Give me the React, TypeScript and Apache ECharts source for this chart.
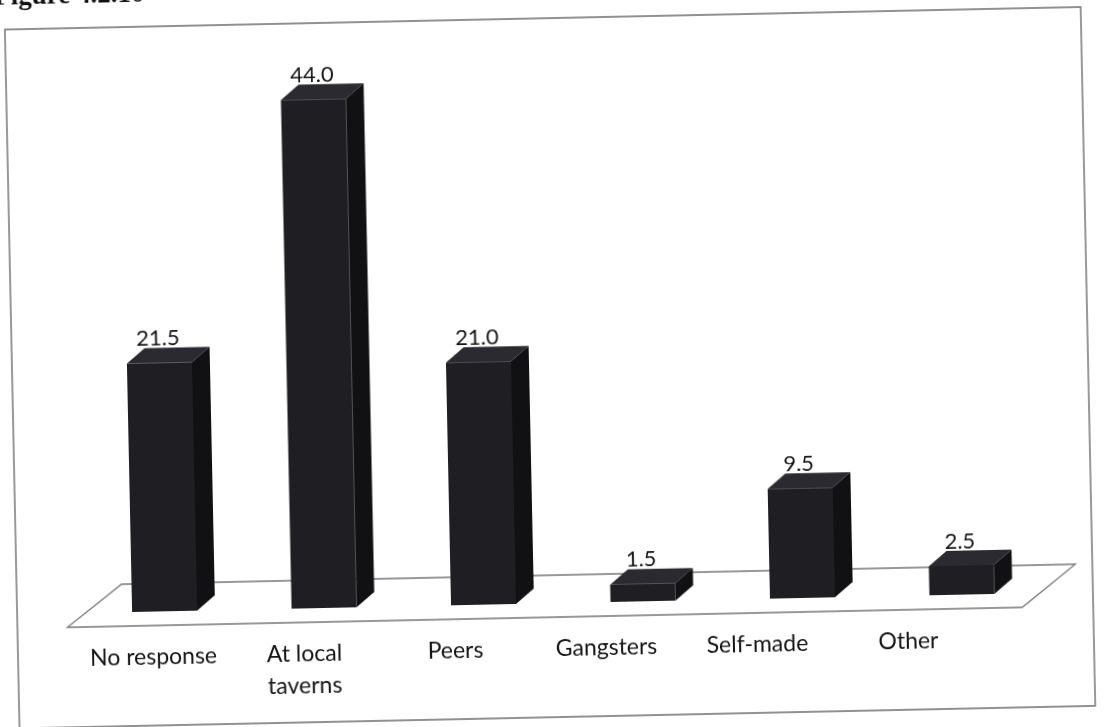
import React, { useEffect, useRef } from "react";
import * as echarts from "echarts";

// ---- data ----
const categories = ["No response", "At local taverns", "Peers", "Gangsters", "Self-made", "Other"];
const categoryLabels = ["No response", "At local\ntaverns", "Peers", "Gangsters", "Self-made", "Other"];
const values = [21.5, 44.0, 21.0, 1.5, 9.5, 2.5];
const titleText = "Figure 4.2.10";

// ---- layout (unrotated page coords, offset by OFF because the canvas is larger than the page) ----
const W = 1199;
const H = 807;
const OFF = 40;
const BASE_Y = 603 + OFF;
const PX_PER_UNIT = 11.56;
const Y_MAX = 50;
const GRID_TOP = BASE_Y - Y_MAX * PX_PER_UNIT;
const GRID_LEFT = 79.75 + OFF;
const GRID_WIDTH = 957;
const LABEL_LEFT = 72 + OFF;
const LABEL_WIDTH = 906;
const LABEL_AXIS_Y = 621 + OFF;
const FRONT_RATIO = 65 / 159.5;
const DEPTH_X = 18;
const DEPTH_Y = -15;
const FRONT = "#1e1e23";
const SIDE = "#111114";
const TOPC = "#2a2a30";
const FONT = "Lato, 'Open Sans', sans-serif";

export default function App() {
  const ref = useRef<HTMLDivElement>(null);
  useEffect(() => {
    if (!ref.current) return;
    const chart = echarts.init(ref.current, undefined, { renderer: "svg" });
    const option: any = {
      animation: false,
      backgroundColor: "transparent",
      grid: [
        { left: GRID_LEFT, width: GRID_WIDTH, top: GRID_TOP, bottom: H - BASE_Y },
        { left: LABEL_LEFT, width: LABEL_WIDTH, top: 600, bottom: H - LABEL_AXIS_Y },
      ],
      xAxis: [
        {
          type: "category",
          gridIndex: 0,
          data: categories,
          show: false,
        },
        {
          type: "category",
          gridIndex: 1,
          data: categoryLabels,
          axisLine: { show: false },
          axisTick: { show: false },
          axisLabel: {
            margin: 10,
            fontSize: 23,
            lineHeight: 32,
            color: "#141414",
            fontFamily: FONT,
            interval: 0,
            verticalAlign: "top",
          },
        },
      ],
      yAxis: [
        { type: "value", gridIndex: 0, min: 0, max: Y_MAX, show: false },
        { type: "value", gridIndex: 1, show: false },
      ],
      graphic: [
        {
          type: "rect",
          z: -10,
          shape: { x: 12 + OFF, y: 18 + OFF, width: 1076, height: 699 },
          style: { fill: "#ffffff", stroke: "#6e6e6e", lineWidth: 1.4 },
        },
        {
          type: "polygon",
          z: -5,
          shape: {
            points: [
              [117 + OFF, 575 + OFF],
              [1071 + OFF, 575 + OFF],
              [1017 + OFF, 617 + OFF],
              [62 + OFF, 617 + OFF],
            ],
          },
          style: { fill: "#ffffff", stroke: "#777777", lineWidth: 1.3 },
        },
        {
          type: "text",
          x: 2 + OFF,
          y: OFF - 3,
          style: {
            text: titleText,
            fontFamily: "'Liberation Serif', serif",
            fontWeight: "bold",
            fontSize: 27,
            fill: "#111",
            verticalAlign: "bottom",
            align: "left",
          },
        },
      ],
      series: [
        {
          type: "custom",
          xAxisIndex: 0,
          yAxisIndex: 0,
          z: 5,
          data: values.map((v, i) => [i, v]),
          encode: { x: 0, y: 1 },
          renderItem: (params: any, api: any) => {
            const idx = api.value(0);
            const val = api.value(1);
            const top = api.coord([idx, val]);
            const base = api.coord([idx, 0]);
            const band = api.size([1, 0])[0];
            const fw = band * FRONT_RATIO;
            const x0 = top[0] - fw / 2;
            const x1 = top[0] + fw / 2;
            const yT = top[1];
            const yB = base[1];
            return {
              type: "group",
              children: [
                {
                  type: "polygon",
                  shape: { points: [[x1, yT], [x1 + DEPTH_X, yT + DEPTH_Y], [x1 + DEPTH_X, yB + DEPTH_Y], [x1, yB]] },
                  style: { fill: SIDE },
                },
                {
                  type: "rect",
                  shape: { x: x0, y: yT, width: fw, height: yB - yT },
                  style: { fill: FRONT },
                },
                {
                  type: "polygon",
                  shape: { points: [[x0, yT], [x0 + DEPTH_X, yT + DEPTH_Y], [x1 + DEPTH_X, yT + DEPTH_Y], [x1, yT]] },
                  style: { fill: TOPC },
                },
                {
                  type: "text",
                  style: {
                    text: Number(val).toFixed(1),
                    x: top[0] - 1,
                    y: yT + DEPTH_Y - 11,
                    align: "center",
                    verticalAlign: "middle",
                    fontSize: 22,
                    fontFamily: FONT,
                    fill: "#141414",
                  },
                },
              ],
            };
          },
        },
      ],
    };
    chart.setOption(option);
    return () => chart.dispose();
  }, []);
  return (
    <div
      ref={ref}
      style={{
        position: "fixed",
        left: -OFF,
        top: -OFF,
        width: W,
        height: H,
        transform: "rotate(-1.2deg)",
        transformOrigin: "50% 50%",
      }}
    />
  );
}
